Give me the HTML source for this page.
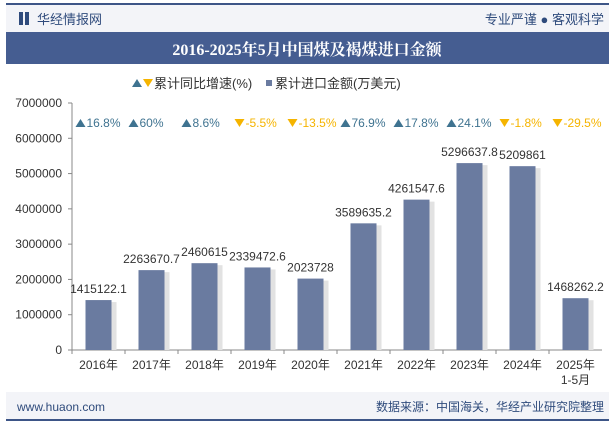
<!DOCTYPE html>
<html><head><meta charset="utf-8"><style>
body{margin:0;width:615px;height:427px;overflow:hidden;background:#fff;font-family:"Liberation Sans","Noto Sans CJK SC",sans-serif;}
</style></head><body>
<svg width="615" height="427" style="position:absolute;left:0;top:0">
<rect x="6" y="4" width="603" height="28" fill="#f3f4f8"/>
<rect x="6" y="3" width="603" height="2" fill="#3d5587"/>
<rect x="19" y="12" width="4" height="13" fill="#2f4b7c"/><rect x="25" y="12" width="4" height="13" fill="#2f4b7c"/>
<text x="37" y="24" font-size="13" fill="#2f4b7c">华经情报网</text>
<text x="604" y="24" font-size="13" fill="#2f4b7c" text-anchor="end">专业严谨 ● 客观科学</text>
<rect x="6" y="32" width="603" height="32" fill="#455d91"/>
<text x="307" y="55" font-size="16" font-weight="bold" fill="#fff" text-anchor="middle" font-family="'Liberation Serif','Noto Serif CJK SC',serif">2016-2025年5月中国煤及褐煤进口金额</text>
<g font-size="13" fill="#333">
<polygon points="132,87 137,79 142,87" fill="#3f7390"/><polygon points="143,79 153,79 148,87" fill="#f5b400"/>
<text x="154" y="88">累计同比增速(%)</text>
<rect x="266" y="80" width="6" height="6" fill="#6a7ba0"/>
<text x="275" y="88">累计进口金额(万美元)</text>
</g>
<rect x="6" y="392" width="603" height="28" fill="#f3f4f8"/>
<rect x="6" y="419" width="603" height="2" fill="#3d5587"/>
<text x="17" y="411" font-size="12" fill="#2f4b7c">www.huaon.com</text>
<text x="604" y="411" font-size="12" fill="#2f4b7c" text-anchor="end">数据来源：中国海关，华经产业研究院整理</text>
<g id="plot"></g>
</svg>
<script>
const categories=["2016年","2017年","2018年","2019年","2020年","2021年","2022年","2023年","2024年","2025年"];
const amounts=[1415122.1,2263670.7,2460615,2339472.6,2023728,3589635.2,4261547.6,5296637.8,5209861,1468262.2];
const amountLabels=["1415122.1","2263670.7","2460615","2339472.6","2023728","3589635.2","4261547.6","5296637.8","5209861","1468262.2"];
const growth=[16.8,60,8.6,-5.5,-13.5,76.9,17.8,24.1,-1.8,-29.5];
const yTicks=[0,1000000,2000000,3000000,4000000,5000000,6000000,7000000];
const NS="http://www.w3.org/2000/svg";
const g=document.getElementById('plot');
const x0=72,x1=602,yb=350,yt=103,yMax=7000000;
const bw=(x1-x0)/categories.length;
const y=v=>yb-(v/yMax)*(yb-yt);
const xc=i=>x0+bw*(i+0.5);
function mk(t,a,txt){const e=document.createElementNS(NS,t);for(const k in a)e.setAttribute(k,a[k]);if(txt!=null)e.textContent=txt;g.appendChild(e);return e;}
const ax=mk('line',{x1:x0,y1:yb,x2:x1,y2:yb,stroke:'#888'});


const ay=mk('line',{x1:x0,y1:yt,x2:x0,y2:yb,stroke:'#888'});


yTicks.forEach(v=>{
 mk('line',{x1:x0-4,y1:y(v),x2:x0,y2:y(v),stroke:'#888'});
 const t=mk('text',{x:x0-10,y:y(v)+4,'font-size':12,fill:'#333','text-anchor':'end'},String(v));
 
 
});
categories.forEach((c,i)=>{
 mk('line',{x1:x0+bw*i,y1:yb,x2:x0+bw*i,y2:yb+4,stroke:'#888'});
 const t=mk('text',{x:xc(i),y:yb+19,'font-size':12,fill:'#333','text-anchor':'middle'},c);
 
 
 mk('rect',{x:xc(i)+13,y:y(amounts[i])+2,width:5,height:yb-y(amounts[i])-2,fill:'#e2e2e2'});
 const b=mk('rect',{x:xc(i)-13,y:y(amounts[i]),width:26,height:yb-y(amounts[i]),fill:'#6a7ba0'});
 
 
 const l=mk('text',{x:xc(i),y:y(amounts[i])-7,'font-size':12,fill:'#333','text-anchor':'middle'},amountLabels[i]);
 
 
 const up=growth[i]>=0;
 const col=up?'#3f7390':'#f5b400';
 const tx=xc(i)-23;
 mk('polygon',{points:up?`${tx},127 ${tx+5},119 ${tx+10},127`:`${tx},119 ${tx+10},119 ${tx+5},127`,fill:col});
 const gt=mk('text',{x:tx+11,y:127,'font-size':12,fill:col},growth[i]+'%');
 
 
});
const t2=mk('text',{x:xc(9),y:yb+34,'font-size':12,fill:'#333','text-anchor':'middle'},'1-5月');


</script>
</body></html>
